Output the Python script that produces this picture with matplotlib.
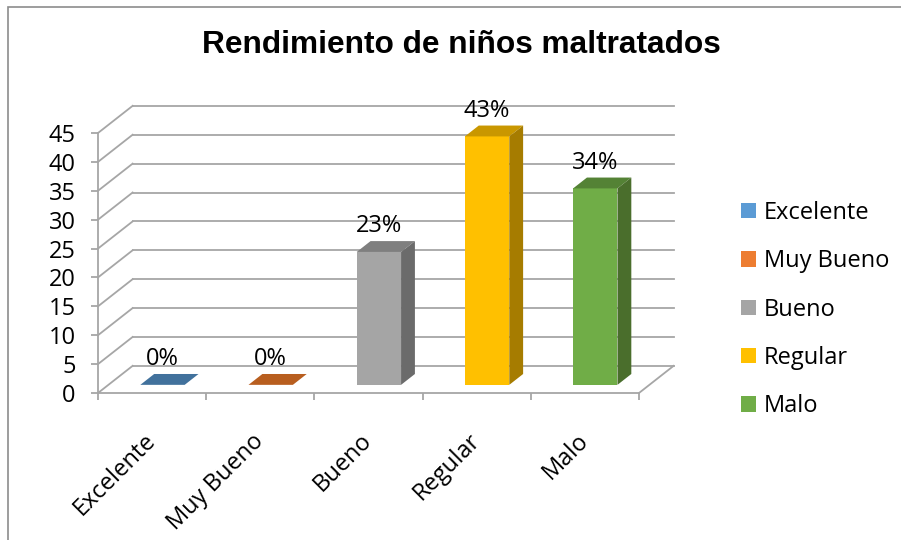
import matplotlib
matplotlib.use("Agg")
import matplotlib.pyplot as plt
from matplotlib.patches import Polygon, Patch, Rectangle
import numpy as np

categorias = ["Excelente", "Muy Bueno", "Bueno", "Regular", "Malo"]
valores = [0, 0, 23, 43, 34]
etiquetas = ["0%", "0%", "23%", "43%", "34%"]
colores = ["#5B9BD5", "#ED7D31", "#A5A5A5", "#FFC000", "#70AD47"]
colores_top = ["#41719C", "#B85E1F", "#7F7F7F", "#C99700", "#548235"]
colores_lado = ["#355E82", "#9A4E1A", "#6B6B6B", "#A67C00", "#4A6E2C"]
yticks = list(range(0, 50, 5))

W, H = 901, 540
plt.rcParams['font.family'] = ['Open Sans', 'DejaVu Sans']
fs = 17

fig = plt.figure(figsize=(W / 100, H / 100), dpi=100)
ax = fig.add_axes([98 / W, (H - 393) / H, (639 - 98) / W, (393 - 133) / H])
ax.set_xlim(-0.5, 4.5)
ax.set_ylim(0, 45)

# pseudo 3D depth (data units)
DX, DY = 0.32, 4.7
t0, t1 = 0.3, 0.7
bw = 0.41
gris = "#A6A6A6"

# walls / gridlines
for yv in yticks:
    ax.plot([-0.5, -0.5 + DX], [yv, yv + DY], color=gris, lw=1.3, clip_on=False, zorder=1)
    ax.plot([-0.5 + DX, 4.5 + DX], [yv + DY, yv + DY], color=gris, lw=1.3, clip_on=False, zorder=1)
ax.plot([4.5, 4.5 + DX], [0, DY], color=gris, lw=1.3, clip_on=False, zorder=1)

x = np.arange(len(categorias))
xf = x + t0 * DX
ax.bar(xf, valores, width=bw, bottom=t0 * DY, color=colores, zorder=3)
for i, v in enumerate(valores):
    l, r = xf[i] - bw / 2, xf[i] + bw / 2
    ddx, ddy = (t1 - t0) * DX, (t1 - t0) * DY
    top = [(l, v + t0 * DY), (r, v + t0 * DY), (r + ddx, v + t1 * DY), (l + ddx, v + t1 * DY)]
    ax.add_patch(Polygon(top, closed=True, fc=colores_top[i], ec="none", zorder=3, clip_on=False))
    if v > 0:
        lado = [(r, t0 * DY), (r + ddx, t1 * DY), (r + ddx, v + t1 * DY), (r, v + t0 * DY)]
        ax.add_patch(Polygon(lado, closed=True, fc=colores_lado[i], ec="none", zorder=3, clip_on=False))
    ax.annotate(etiquetas[i], (xf[i], v + t1 * DY), xytext=(0, 2), textcoords="offset points",
                ha="center", va="bottom", fontsize=fs, annotation_clip=False, zorder=4)

for s in ["top", "right"]:
    ax.spines[s].set_visible(False)
for s in ["left", "bottom"]:
    ax.spines[s].set_color(gris)
    ax.spines[s].set_linewidth(1.3)
ax.set_facecolor("none")

ax.set_yticks(yticks)
ax.tick_params(axis="y", length=5, width=1.3, color=gris, pad=11, labelsize=fs)
ax.set_xticks(x)
ax.set_xticklabels(categorias, rotation=45, ha="right", va="center", rotation_mode="anchor")
ax.set_xticks(np.arange(-0.5, 5, 1), minor=True)
ax.tick_params(axis="x", which="major", length=0, pad=32, labelsize=fs)
ax.tick_params(axis="x", which="minor", length=5, width=1.3, color=gris)

handles = [Patch(facecolor=c, edgecolor="none") for c in colores]
fig.legend(handles, categorias, loc="upper left", bbox_to_anchor=(741 / W, 1 - 201 / H),
           frameon=False, fontsize=fs, handlelength=0.62, handleheight=0.62,
           handletextpad=0.35, labelspacing=1.03, borderpad=0, borderaxespad=0)

fig.text(461 / W, 1 - 45 / H, "Rendimiento de niños maltratados", ha="center", va="center",
         fontsize=22.8, fontweight="bold", family="Liberation Sans")

fig.add_artist(Rectangle((8 / W, -0.1), 1.2, 1.1 - 7 / H, transform=fig.transFigure,
                         fill=False, ec="#8C8C8C", lw=1.2))

fig.savefig("out.png", dpi=100)
